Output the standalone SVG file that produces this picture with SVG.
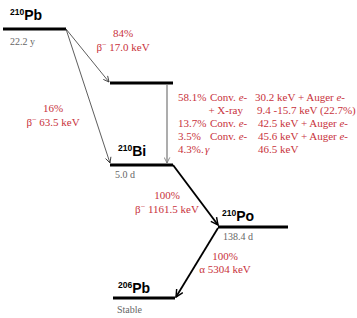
<svg xmlns="http://www.w3.org/2000/svg" width="357" height="318" viewBox="0 0 357 318">
<defs>
<style>
.lvl{stroke:#000;stroke-width:3;fill:none}
.nuc{font-family:"Liberation Sans","DejaVu Sans",Arial,sans-serif;font-weight:bold;fill:#000}
.hl{font-family:"Liberation Serif","DejaVu Serif","Times New Roman",serif;font-size:10px;fill:#666}
.r{font-family:"Liberation Serif","DejaVu Serif","Times New Roman",serif;font-size:11px;fill:#c8323c}
.thin{stroke:#333;stroke-width:0.8;fill:none}
.thick{stroke:#000;stroke-width:1.8;fill:none}
.gray{stroke:#999;stroke-width:1.6;fill:none}
</style>
<marker id="ah" viewBox="0 0 10 10" refX="9" refY="5" markerWidth="7" markerHeight="7" markerUnits="userSpaceOnUse" orient="auto"><path d="M1,1 L9,5 L1,9" fill="none" stroke="#333" stroke-width="1.2"/></marker>
<marker id="ahk" viewBox="0 0 10 10" refX="9" refY="5" markerWidth="9" markerHeight="9" markerUnits="userSpaceOnUse" orient="auto"><path d="M1,1 L9,5 L1,9" fill="none" stroke="#000" stroke-width="1.6"/></marker>
<marker id="ahg" viewBox="0 0 10 10" refX="9" refY="5" markerWidth="7" markerHeight="7" markerUnits="userSpaceOnUse" orient="auto"><path d="M1,1 L9,5 L1,9" fill="none" stroke="#777" stroke-width="1.2"/></marker>
</defs>
<rect width="357" height="318" fill="#fff"/>
<g id="pb210">
<line class="lvl" x1="3" y1="29" x2="66" y2="29"/>
<text class="nuc" x="10" y="20"><tspan font-size="8.5" dy="-5">210</tspan><tspan font-size="14" dy="5">Pb</tspan></text>
<text class="hl" x="10" y="45">22.2 y</text>
</g>
<g id="bi210m">
<line class="lvl" x1="110" y1="83" x2="173" y2="83"/>
</g>
<g id="bi210">
<line class="lvl" x1="110" y1="165" x2="173" y2="165"/>
<text class="nuc" x="118" y="156"><tspan font-size="8.5" dy="-5">210</tspan><tspan font-size="14" dy="5">Bi</tspan></text>
<text class="hl" x="115" y="178">5.0 d</text>
</g>
<g id="po210">
<line class="lvl" x1="218" y1="227" x2="288" y2="227"/>
<text class="nuc" x="222" y="221"><tspan font-size="8.5" dy="-5">210</tspan><tspan font-size="14" dy="5">Po</tspan></text>
<text class="hl" x="223" y="240">138.4 d</text>
</g>
<g id="pb206">
<line class="lvl" x1="113" y1="298" x2="175" y2="298"/>
<text class="nuc" x="118" y="293"><tspan font-size="8.5" dy="-5">206</tspan><tspan font-size="14" dy="5">Pb</tspan></text>
<text class="hl" x="117" y="313">Stable</text>
</g>
<g id="connectors">
<line class="thin" x1="66" y1="29" x2="109" y2="82" marker-end="url(#ah)"/>
<line class="thin" x1="66" y1="29" x2="110" y2="163" marker-end="url(#ah)"/>
<line class="gray" x1="167" y1="85" x2="167" y2="163" marker-end="url(#ahg)"/>
<line class="thick" x1="173" y1="165" x2="218" y2="225" marker-end="url(#ahk)"/>
<line class="thick" x1="218" y1="228" x2="176" y2="297" marker-end="url(#ahk)"/>
</g>
<g id="labels">
<text class="r" x="123" y="37" text-anchor="middle">84%</text>
<text class="r" x="123" y="51" text-anchor="middle">β<tspan font-size="8" dy="-4">−</tspan><tspan dy="4"> 17.0 keV</tspan></text>
<text class="r" x="53" y="112" text-anchor="middle">16%</text>
<text class="r" x="53" y="126" text-anchor="middle">β<tspan font-size="8" dy="-4">−</tspan><tspan dy="4"> 63.5 keV</tspan></text>
<text class="r" x="167" y="199" text-anchor="middle">100%</text>
<text class="r" x="167" y="213" text-anchor="middle">β<tspan font-size="8" dy="-4">−</tspan><tspan dy="4"> 1161.5 keV</tspan></text>
<text class="r" x="225" y="260" text-anchor="middle">100%</text>
<text class="r" x="225" y="273" text-anchor="middle">α 5304 keV</text>
<text class="r" x="178" y="101">58.1%</text>
<text class="r" x="210" y="101">Conv. <tspan font-style="italic">e</tspan>-</text>
<text class="r" x="255" y="101">30.2 keV + Auger <tspan font-style="italic">e</tspan>-</text>
<text class="r" x="243" y="114" text-anchor="end">+ X-ray</text>
<text class="r" x="257" y="114">9.4 -15.7 keV (22.7%)</text>
<text class="r" x="178" y="127">13.7%</text>
<text class="r" x="210" y="127">Conv. <tspan font-style="italic">e</tspan>-</text>
<text class="r" x="258" y="127">42.5 keV + Auger <tspan font-style="italic">e</tspan>-</text>
<text class="r" x="178" y="140">3.5%</text>
<text class="r" x="210" y="140">Conv. <tspan font-style="italic">e</tspan>-</text>
<text class="r" x="258" y="140">45.6 keV + Auger <tspan font-style="italic">e</tspan>-</text>
<text class="r" x="178" y="153">4.3%.</text>
<text class="r" x="205" y="153" font-style="italic">γ</text>
<text class="r" x="258" y="153">46.5 keV</text>
</g>
</svg>
